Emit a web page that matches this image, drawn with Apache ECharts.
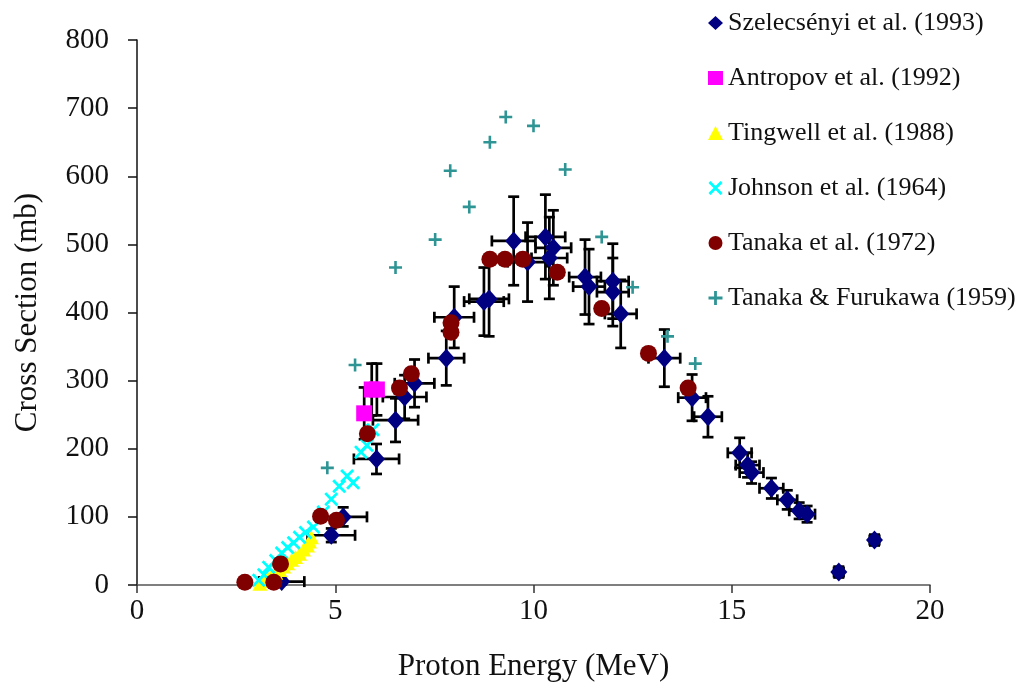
<!DOCTYPE html>
<html>
<head>
<meta charset="utf-8">
<script src="https://cdn.jsdelivr.net/npm/echarts@6/dist/echarts.min.js"></script>
<style>html,body{margin:0;padding:0;background:#fff}#c{width:1030px;height:688px}</style>
</head>
<body>
<div id="c"></div>
<script>
// ---- Data (Proton Energy MeV, Cross Section mb) ----
const szelX    = [3.65,4.9,5.2,6.04,6.52,6.75,7.0,7.8,8.0,8.75,8.88,9.5,9.85,10.3,10.4,10.5,11.3,11.4,12.0,12.0,12.2,13.3,14.0,14.4,15.2,15.4,15.5,16.0,16.4,16.7,16.9,17.7,18.6];
const szelY    = [5,73,100,185,242,276,296,333,393,416,420,505,474,511,480,495,452,438,446,430,398,333,275,247,194,176,165,142,125,109,104,19,66];
const szelXErr = [0.57,0.6,0.6,0.57,0.57,0.55,0.5,0.45,0.5,0.5,0.5,0.55,0.5,0.5,0.45,0.45,0.4,0.4,0.4,0.4,0.4,0.4,0.35,0.35,0.3,0.3,0.3,0.3,0.25,0.25,0.2,0.12,0.12];
const szelYErr = [4,10,14,22,32,32,35,40,45,50,55,65,58,62,60,55,55,55,55,50,50,42,34,30,22,18,16,15,14,12,12,8,8];

const antrX    = [5.73,5.92,6.05];
const antrY    = [252,287,287];
const antrYErr = [38,38,38];

const tingX = [3.1,3.2,3.3,3.4,3.5,3.6,3.7,3.8,3.9,4.0,4.1,4.2,4.3,4.35,4.4];
const tingY = [2,6,10,14,18,22,27,32,37,41,46,52,58,64,70];

const johnX = [3.07,3.2,3.32,3.5,3.65,3.8,3.95,4.1,4.25,4.45,4.7,4.9,5.1,5.3,5.45,5.65,5.8,5.95];
const johnY = [7,15,26,36,47,55,62,70,77,85,107,126,145,160,150,195,205,228];

const tan72X = [2.72,3.45,3.62,4.63,5.03,5.81,6.62,6.92,7.92,7.92,8.9,9.28,9.73,10.6,11.72,12.9,13.9];
const tan72Y = [4,4,31,101,95,222,289,310,385,371,478,478,478,459,406,340,289];

const furX = [4.8,5.5,6.52,7.52,7.9,8.38,8.9,9.3,10.0,10.8,11.72,12.5,13.38,14.08];
const furY = [172,323,466,507,608,555,650,687,674,610,511,437,365,325];

const seriesNames = ['Szelecsényi et al. (1993)','Antropov et al. (1992)','Tingwell et al. (1988)','Johnson et al. (1964)','Tanaka et al. (1972)','Tanaka & Furukawa (1959)'];
const xTicks = [0,5,10,15,20];
const yTicks = [0,100,200,300,400,500,600,700,800];

// ---- Build ----
const zip = (a,b) => a.map((v,i)=>[v,b[i]]);
const errData = szelX.map((v,i)=>[v,szelY[i],szelXErr[i],szelYErr[i]])
  .concat(antrX.map((v,i)=>[v,antrY[i],0,antrYErr[i]]));

const PLUS = 'path://M4,0H6V4H10V6H6V10H4V6H0V4H4Z';
const XMARK = 'path://M0,1.4L1.4,0L5,3.6L8.6,0L10,1.4L6.4,5L10,8.6L8.6,10L5,6.4L1.4,10L0,8.6L3.6,5Z';
const serif = '"Liberation Serif","Times New Roman",serif';

function renderErr(params, api){
  const x=api.value(0), y=api.value(1), xe=api.value(2), ye=api.value(3);
  const cap=5.5;
  const kids=[];
  const st={stroke:'#000',lineWidth:2.7};
  if (xe>0){
    const l=api.coord([x-xe,y]), r=api.coord([x+xe,y]);
    kids.push({type:'line',shape:{x1:l[0],y1:l[1],x2:r[0],y2:r[1]},style:st});
    kids.push({type:'line',shape:{x1:l[0],y1:l[1]-cap,x2:l[0],y2:l[1]+cap},style:st});
    kids.push({type:'line',shape:{x1:r[0],y1:r[1]-cap,x2:r[0],y2:r[1]+cap},style:st});
  }
  if (ye>0){
    const t=api.coord([x,y+ye]), b=api.coord([x,y-ye]);
    kids.push({type:'line',shape:{x1:t[0],y1:t[1],x2:b[0],y2:b[1]},style:st});
    kids.push({type:'line',shape:{x1:t[0]-cap,y1:t[1],x2:t[0]+cap,y2:t[1]},style:st});
    kids.push({type:'line',shape:{x1:b[0]-cap,y1:b[1],x2:b[0]+cap,y2:b[1]},style:st});
  }
  return {type:'group',children:kids};
}

const chart = echarts.init(document.getElementById('c'), null, {renderer:'canvas'});
const sc = (name, x, y, symbol, size, color, z) => ({
  type:'scatter', name, data:zip(x,y), symbol, symbolSize:size,
  itemStyle:{color, opacity:1}, emphasis:{disabled:true}, z
});
chart.setOption({
  backgroundColor:'#fff',
  animation:false,
  grid:{left:137,right:100,top:40,bottom:103},
  legend:{
    data:seriesNames,
    orient:'vertical',
    left:703, top:5,
    itemWidth:15, itemHeight:14, itemGap:29,
    textStyle:{fontFamily:serif,fontSize:26,color:'#111'},
    selectedMode:false
  },
  xAxis:{
    type:'value',min:xTicks[0],max:xTicks[xTicks.length-1],interval:5,
    name:'Proton Energy (MeV)',nameLocation:'middle',nameGap:66,
    nameTextStyle:{fontFamily:serif,fontSize:31,color:'#111'},
    axisLine:{lineStyle:{color:'#555',width:1.5}},
    axisTick:{inside:false,length:8,lineStyle:{color:'#333',width:1.5}},
    axisLabel:{fontFamily:serif,fontSize:29,color:'#111',margin:12},
    splitLine:{show:false}
  },
  yAxis:{
    type:'value',min:yTicks[0],max:yTicks[yTicks.length-1],interval:100,
    name:'Cross Section (mb)',nameLocation:'middle',nameGap:94,
    nameTextStyle:{fontFamily:serif,fontSize:31,color:'#111'},
    axisLine:{show:true,lineStyle:{color:'#111',width:1.5}},
    axisTick:{show:true,length:9,lineStyle:{color:'#111',width:1.5}},
    axisLabel:{fontFamily:serif,fontSize:29,color:'#111',margin:28},
    splitLine:{show:false}
  },
  series:[
    {type:'custom',name:'err',renderItem:renderErr,data:errData,encode:{x:0,y:1},z:1,silent:true},
    sc(seriesNames[0], szelX, szelY, 'diamond', [17,19], '#000080', 3),
    sc(seriesNames[1], antrX, antrY, 'rect', 16, '#ff00ff', 3),
    sc(seriesNames[2], tingX, tingY, 'triangle', [15,14], '#ffff00', 3),
    sc(seriesNames[3], johnX, johnY, XMARK, 14, '#00ffff', 4),
    sc(seriesNames[4], tan72X, tan72Y, 'circle', 17, '#800000', 5),
    sc(seriesNames[5], furX, furY, PLUS, 13, '#2e9494', 5)
  ]
});
</script>
</body>
</html>
